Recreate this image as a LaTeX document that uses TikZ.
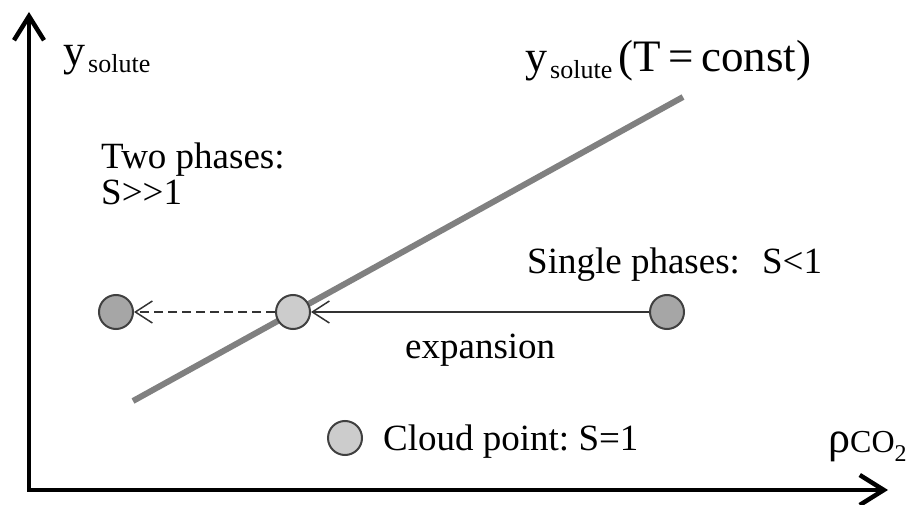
\documentclass[tikz,border=0pt]{standalone}
\usepackage{fontspec}
\setmainfont{Liberation Serif}
\usetikzlibrary{arrows.meta}
\frenchspacing
\newcommand{\ysolute}{{\fontsize{44}{50}\selectfont y}\hspace{3pt}\raisebox{-7pt}{\fontsize{26}{30}\selectfont solute}}
\tikzset{
  axisline/.style={line width=4.5pt, {Straight Barb[length=24pt,width=30pt]}-{Straight Barb[length=24pt,width=30pt]}},
  trend/.style={line width=6pt, color=black!50},
  statedot/.style={circle, draw=black!75, line width=2pt, minimum size=34pt, inner sep=0pt},
  darkdot/.style={statedot, fill=black!35},
  lightdot/.style={statedot, fill=black!20},
  move/.style={line width=1.5pt, color=black!80, -{Straight Barb[length=17pt,width=22pt]}},
  label/.style={font=\fontsize{37}{36}\selectfont, inner sep=0pt}
}
\begin{document}
\begin{tikzpicture}[x=1pt,y=1pt]
  \useasboundingbox (0,0) rectangle (921,504);
  % --- Axes ---
  \coordinate (ytip) at (29,492);
  \coordinate (origin) at (29,14);
  \coordinate (xtip) at (888,14);
  \draw[axisline] (ytip) -- (origin) -- (xtip);
  \node[label, anchor=base west] (ylab) at (63,438) {\ysolute};
  \node[label, anchor=base west] (xlab) at (828,52)
    {{\fontsize{44}{50}\selectfont ρ}{\fontsize{32}{36}\selectfont CO}\raisebox{-9pt}{\fontsize{24}{28}\selectfont 2}};
  % --- Solubility line ---
  \coordinate (lineA) at (133,103);
  \coordinate (lineB) at (683,407);
  \draw[trend] (lineA) -- (lineB);
  \node[label, anchor=base west] (linelab) at (525,432)
    {\ysolute\hspace{6pt}{\fontsize{45}{50}\selectfont (T\,=\,const)}};
  % --- States ---
  \node[darkdot] (two) at (116,192) {};
  \node[lightdot] (cloud) at (293,192) {};
  \node[darkdot] (single) at (667,192) {};
  \draw[move] (single) -- (cloud);
  \draw[move, dashed, dash pattern=on 9pt off 5pt] (cloud) -- (two);
  % Labels
  \node[label, anchor=north west, align=left] (twolab) at (101,361) {Two phases:\\S{>}{>}1};
  \node[label, anchor=base west] (singlelab) at (527,230) {Single phases:\hspace{0.6em}S<1};
  \node[label, anchor=base west] (explab) at (405,146) {expansion};
  % --- Legend ---
  \node[lightdot] (legdot) at (345,66) {};
  \node[label, anchor=base west] (leglab) at (383,54) {Cloud point: S=1};
\end{tikzpicture}
\end{document}
